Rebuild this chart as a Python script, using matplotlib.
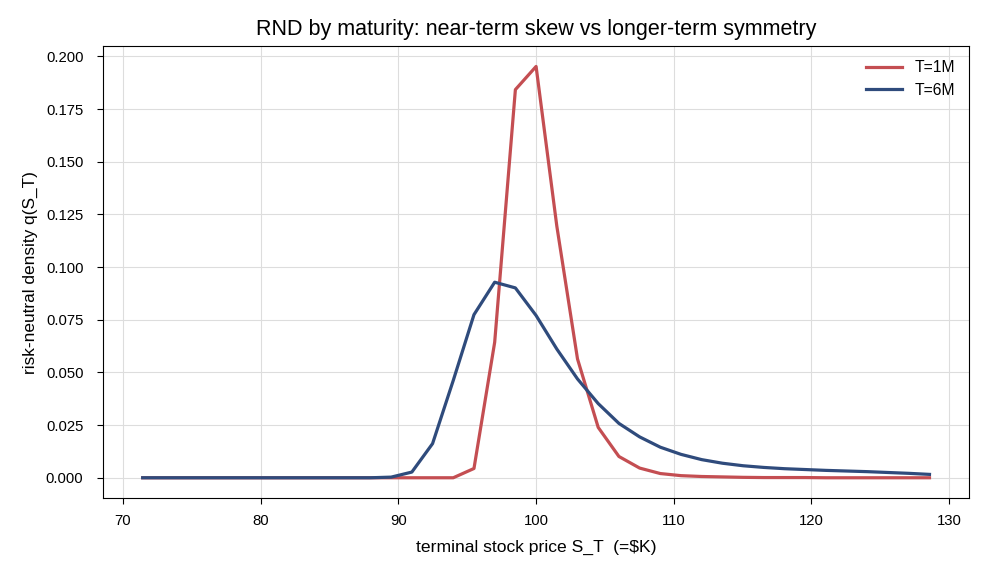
import numpy as np
import matplotlib
matplotlib.use("Agg")
import matplotlib.pyplot as plt

plt.rcParams['font.family'] = ['Liberation Sans', 'DejaVu Sans']

# strikes / terminal prices
strikes = np.linspace(71.43, 128.57, 39)

q_1m = [0, 0, 0, 0, 0, 0, 0, 0, 0, 0,
        0, 0, 0, 0, 0, 0, 0.0044, 0.0643, 0.1842, 0.1952,
        0.1195, 0.0564, 0.0239, 0.0101, 0.0046, 0.0020, 0.0010, 0.0006, 0.0004, 0.0002,
        0.0001, 0.0001, 0.0001, 0, 0, 0, 0, 0, 0]

q_6m = [0, 0, 0, 0, 0, 0, 0, 0, 0, 0,
        0, 0, 0.0003, 0.0027, 0.0162, 0.0462, 0.0774, 0.0928, 0.0901, 0.0770,
        0.0611, 0.0469, 0.0352, 0.0258, 0.0194, 0.0145, 0.0111, 0.0086, 0.0069, 0.0057,
        0.0049, 0.0043, 0.0039, 0.0035, 0.0032, 0.0029, 0.0025, 0.0021, 0.0016]

labels = ["T=1M", "T=6M"]
colors = ["#c44e52", "#2f4b7c"]

fig = plt.figure(figsize=(9.88, 5.72), dpi=100)
ax = fig.add_axes([0.1046, 0.1288, 0.876, 0.791])

ax.plot(strikes, q_1m, color=colors[0], lw=2.3, label=labels[0])
ax.plot(strikes, q_6m, color=colors[1], lw=2.3, label=labels[1])

ax.set_title("RND by maturity: near-term skew vs longer-term symmetry", fontsize=15.5, pad=7.5)
ax.set_xlabel("terminal stock price S_T  (=$K)", fontsize=12.6, labelpad=8.5)
ax.set_ylabel("risk-neutral density q(S_T)", fontsize=12.4, labelpad=5.5)
ax.grid(True, color="#dddddd", lw=0.8)
ax.set_axisbelow(True)
ax.tick_params(axis='both', labelsize=10.7, length=4.3)
ax.tick_params(axis='x', pad=7)
ax.tick_params(axis='y', pad=10)
ax.legend(loc="upper right", frameon=False, fontsize=11.3, handlelength=2.3)

fig.savefig("out.png", dpi=100)
